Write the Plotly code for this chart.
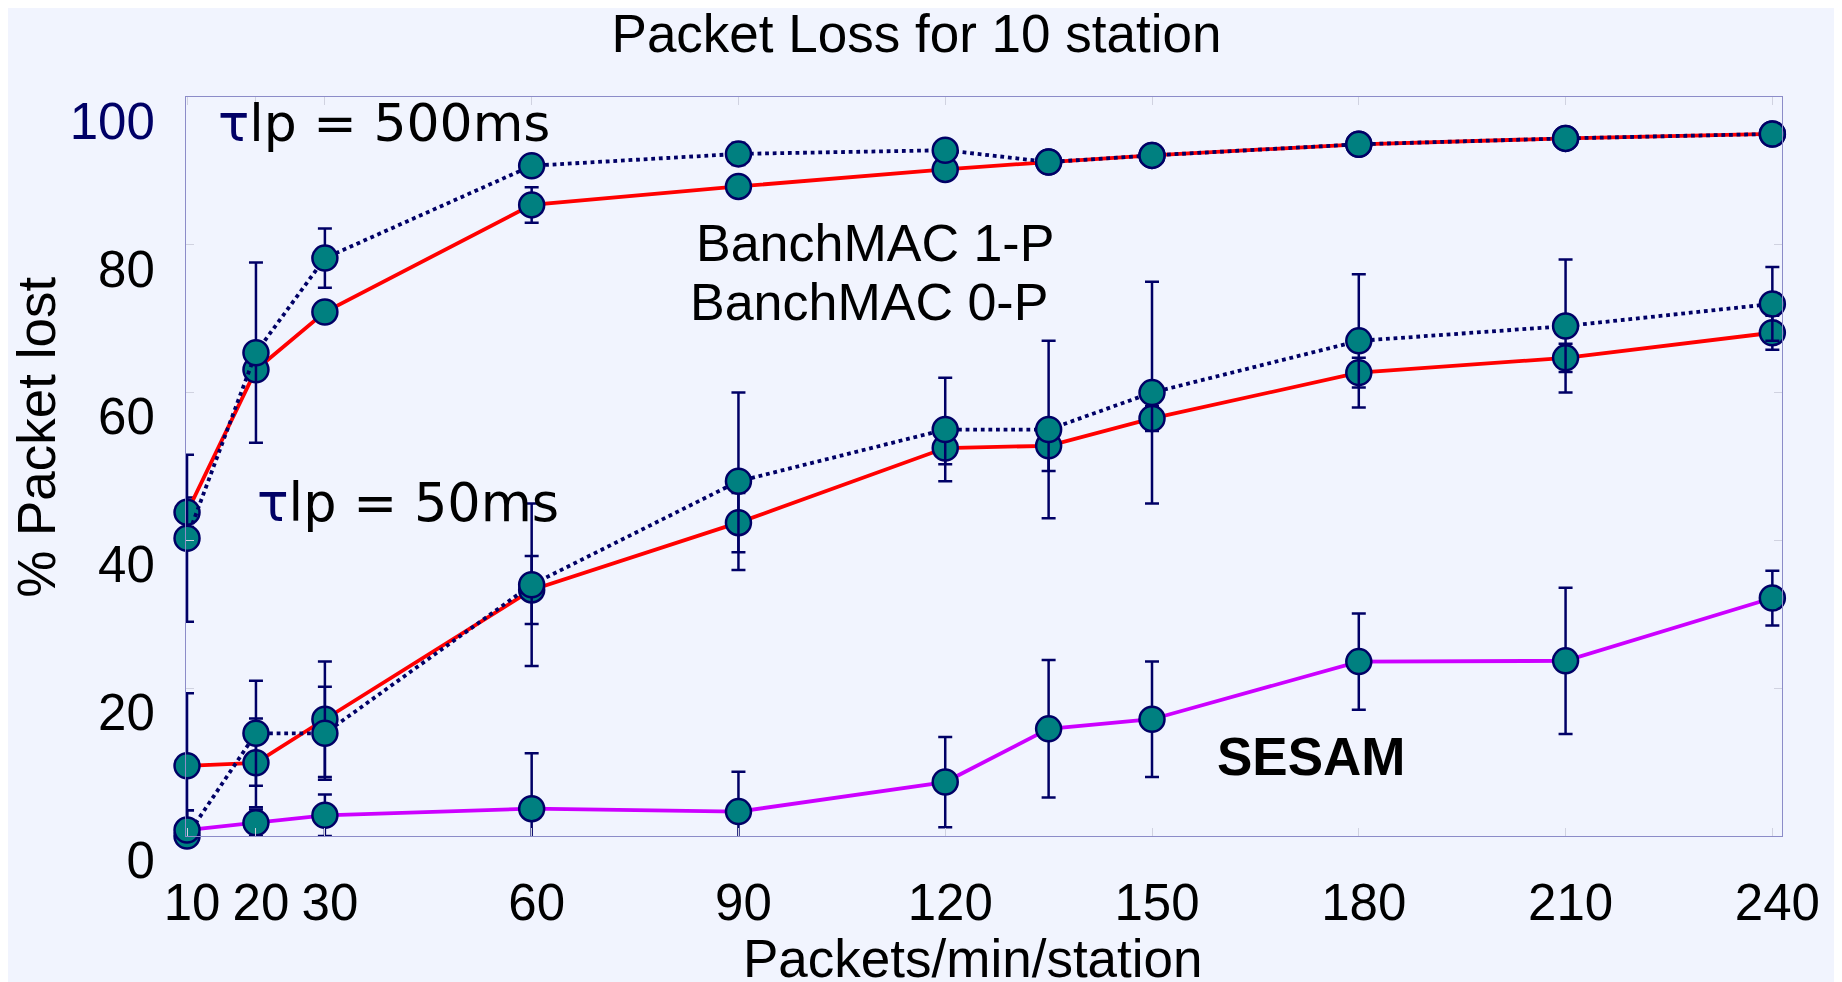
import plotly.graph_objects as go

# packets/min/station
x = [10, 20, 30, 60, 90, 120, 135, 150, 180, 210, 240]

# tau_lp = 500ms
p500_one = [40.3, 65.4, 78.2, 90.7, 92.3, 92.8, 91.2, 92.1, 93.6, 94.4, 95.0]
p500_one_err = [11.3, 12.2, 4.0, 0, 1.5, 0, 0, 0, 0, 0, 0]
p500_zero = [43.8, 63.1, 70.9, 85.4, 87.9, 90.2, 91.2, 92.1, 93.6, 94.4, 95.0]
p500_zero_err = [2.0, 0, 1.0, 2.4, 0, 0, 0, 0, 0, 0, 0]

# tau_lp = 50ms
p50_one = [0.0, 13.9, 13.9, 34.0, 48.0, 55.0, 55.0, 60.0, 67.0, 69.0, 72.0]
p50_one_err = [3.5, 7.1, 6.3, 11.0, 12.0, 7.0, 12.0, 15.0, 9.0, 9.0, 5.0]
p50_zero = [9.5, 9.9, 15.8, 33.3, 42.4, 52.5, 52.8, 56.5, 62.7, 64.7, 68.1]
p50_zero_err = [9.8, 6.0, 7.8, 4.6, 4.0, 2.2, 3.4, 1.7, 2.0, 1.9, 2.3]

# SESAM
sesam = [0.8, 1.8, 2.8, 3.7, 3.3, 7.3, 14.5, 15.8, 23.6, 23.7, 32.2]
sesam_err = [2.7, 1.8, 2.8, 7.5, 5.4, 6.1, 9.3, 7.8, 6.5, 9.9, 3.7]

y_ticks = [0, 20, 40, 60, 80, 100]
y_ticktext = ["0", "20", "40", "60", "80", "<span style='color:#000066'>100</span>"]
x_ticks = [10, 20, 30, 60, 90, 120, 150, 180, 210, 240]

NAVY = "#000066"
BG = "#F1F4FE"


def serie(y, err, color, dash, name):
    return go.Scatter(
        x=x, y=y, name=name, mode="lines+markers", cliponaxis=False,
        line=dict(color=color, width=3.8, dash=dash),
        marker=dict(size=25, color="#008080", line=dict(color=NAVY, width=2.5)),
        error_y=dict(type="data", array=err, visible=True,
                     color=NAVY, thickness=2.5, width=7),
    )


fig = go.Figure()
fig.add_trace(serie(p500_zero, p500_zero_err, "#FF0000", "solid", "BanchMAC 0-P, 500ms"))
fig.add_trace(serie(p500_one, p500_one_err, NAVY, "dot", "BanchMAC 1-P, 500ms"))
fig.add_trace(serie(p50_zero, p50_zero_err, "#FF0000", "solid", "BanchMAC 0-P, 50ms"))
fig.add_trace(serie(p50_one, p50_one_err, NAVY, "dot", "BanchMAC 1-P, 50ms"))
fig.add_trace(serie(sesam, sesam_err, "#CC00FF", "solid", "SESAM"))

arial = "Liberation Sans, Arial, sans-serif"
dejavu = "DejaVu Sans, Verdana, sans-serif"

fig.update_layout(
    width=1842, height=982,
    margin=dict(l=178, r=68, t=89, b=154, autoexpand=False),
    paper_bgcolor=BG, plot_bgcolor=BG,
    showlegend=False,
    font=dict(family=arial, size=51, color="black"),
    title=dict(text="Packet Loss for 10 station", x=0.4932, xanchor="center",
               y=1 - 25 / 982, yanchor="middle", yref="container",
               font=dict(family=arial, size=53, color="black")),
)

fig.update_xaxes(
    range=[9.85, 241.4], tickvals=x_ticks, showgrid=False, zeroline=False,
    automargin=False,
    showline=True, linecolor="#8C8CC8", linewidth=1, mirror="ticks",
    ticks="inside", ticklen=8, tickcolor="#D0D2E0",
    ticklabelstandoff=22, ticklabelshift=5,
    tickfont=dict(family=arial, size=51, color="black"),
)
fig.update_yaxes(
    range=[0, 100], tickvals=y_ticks, ticktext=y_ticktext,
    showgrid=False, zeroline=False, automargin=False,
    showline=True, linecolor="#8C8CC8", linewidth=1, mirror="ticks",
    ticks="inside", ticklen=8, tickcolor="#D0D2E0",
    ticklabelstandoff=20, ticklabelshift=24,
    tickfont=dict(family=arial, size=51, color="black"),
)

# axis titles placed as annotations
fig.add_annotation(text="% Packet lost", textangle=-90, xref="paper", yref="paper",
                   x=-0.0934, y=0.54, xanchor="center", yanchor="middle",
                   showarrow=False, font=dict(family=arial, size=53, color="black"))
fig.add_annotation(text="Packets/min/station", xref="paper", yref="paper",
                   x=0.493, y=-0.166, xanchor="center", yanchor="middle",
                   showarrow=False, font=dict(family=arial, size=53, color="black"))

notes = [
    ("<span style='color:#000066'>τ</span>lp = 500ms", 38.6, 96.5, dejavu, 52),
    ("<span style='color:#000066'>τ</span>lp = 50ms", 42.0, 45.1, dejavu, 52.5),
    ("BanchMAC 1-P", 109.8, 80.3, arial, 52),
    ("BanchMAC 0-P", 108.9, 72.3, arial, 52),
    ("<b>SESAM</b>", 173.0, 10.8, arial, 53),
]
for text, nx, ny, fam, size in notes:
    fig.add_annotation(text=text, x=nx, y=ny, xanchor="center", yanchor="middle",
                       showarrow=False, font=dict(family=fam, size=size, color="black"))

fig.write_html("out.html")
